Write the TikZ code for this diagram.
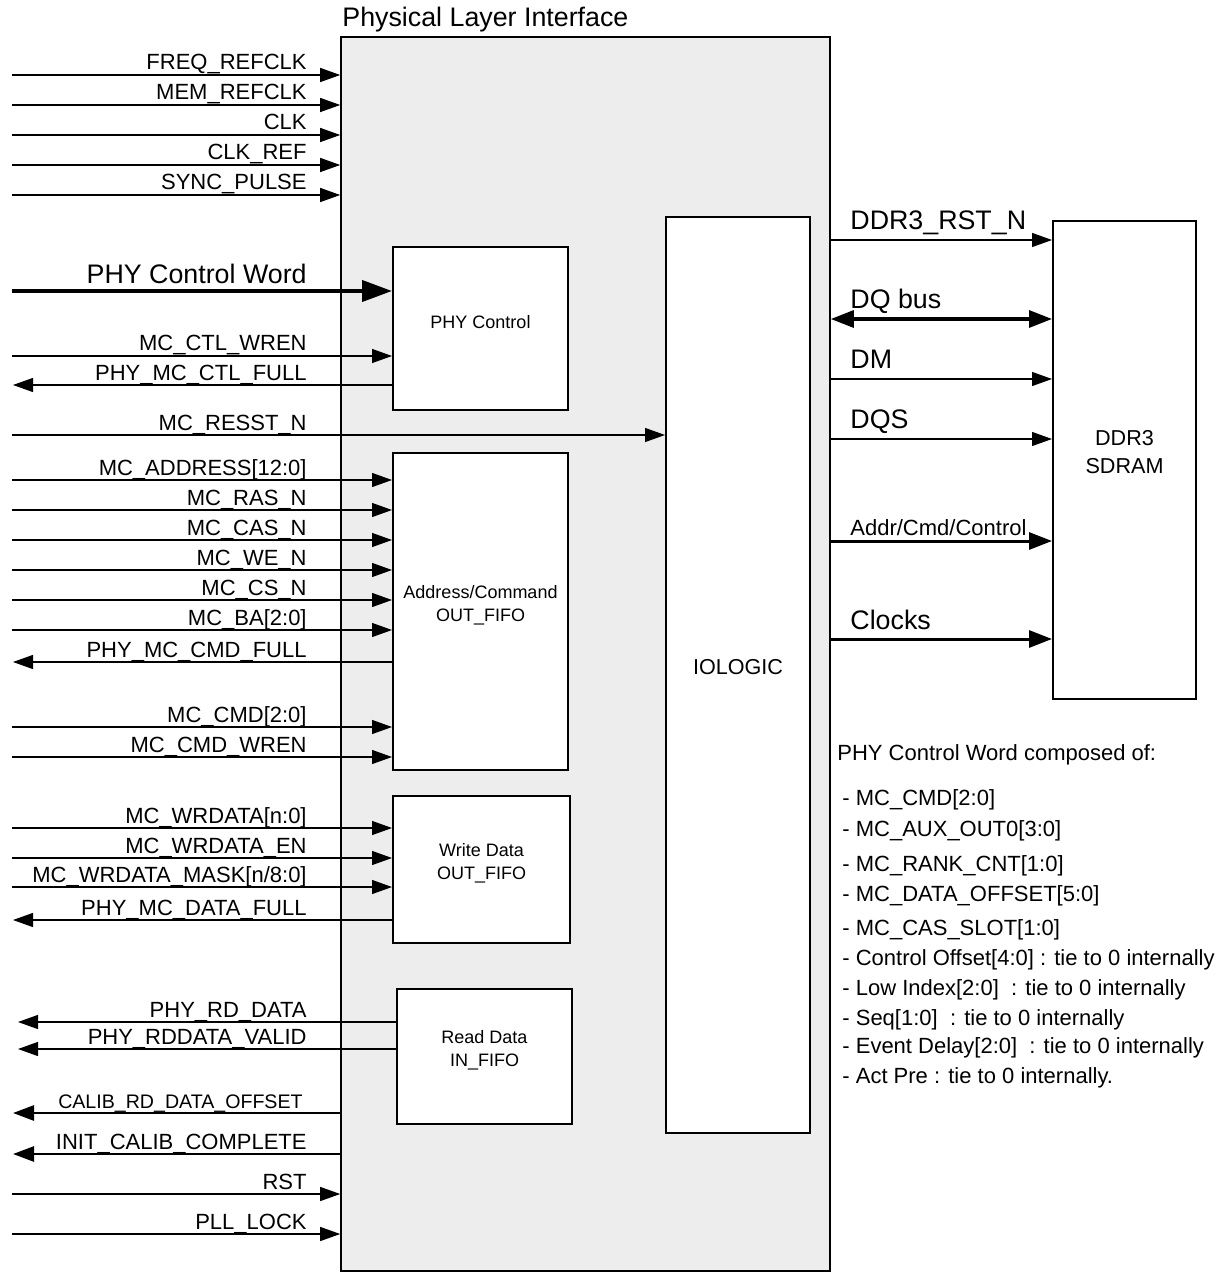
\documentclass[tikz,border=0pt]{standalone}
\usepackage{fontspec}
\setmainfont{Liberation Sans}
\usetikzlibrary{arrows.meta,fit}
\definecolor{PhyGray}{HTML}{EDEDED}

\begin{document}
\begin{tikzpicture}[
  x=0.5pt,y=-0.5pt,
  sigfont/.style={font=\fontsize{11}{13}\selectfont},
  bigfont/.style={font=\fontsize{13.4}{16}\selectfont},
  blk/.style={draw,line width=1pt,fill=white,inner sep=0pt,align=center,
              font=\fontsize{9}{11.5}\selectfont},
  bigblk/.style={blk,font=\fontsize{10.8}{14}\selectfont},
  sig/.style={-{Triangle[length=10pt,width=7pt]},line width=0.6pt},
  heavysig/.style={-{Triangle[length=10.5pt,width=7.5pt]},line width=1.3pt},
  bus/.style={-{Triangle[length=11.5pt,width=8.5pt]},line width=1.5pt},
  lbl/.style={sigfont,anchor=base east,inner sep=0pt},
  rlbl/.style={bigfont,anchor=base west,inner sep=0pt}
]
  \useasboundingbox (0,0) rectangle (1231,1272);
  \node[draw,line width=0.8pt,fill=PhyGray,inner sep=0pt,fit={(341,37) (830,1271)}] (phy) {};
  \node[bigfont,anchor=base west,inner sep=0pt] (title) at (342,27) {Physical Layer Interface};

  \node[blk,fit={(393,247) (568,410)}] (ctl) {PHY Control};
  \node[blk,fit={(393,453) (568,770)}] (acmd) {Address/Command\\OUT\_FIFO};
  \node[blk,fit={(393,796) (570,943)}] (wrf) {Write Data\\OUT\_FIFO};
  \node[blk,fit={(397,989) (572,1124)}] (rdf) {Read Data\\IN\_FIFO};
  \node[bigblk,fit={(666,217) (810,1133)}] (iol) {IOLOGIC};
  \node[bigblk,fit={(1053,221) (1196,699)}] (sdram) {DDR3\\SDRAM};

  \foreach \y/\t [count=\i] in {75/FREQ\_REFCLK,105/MEM\_REFCLK,135/CLK,165/CLK\_REF,
      195/SYNC\_PULSE,1194/RST,1234/PLL\_LOCK}{
    \coordinate (clk\i) at (12,\y);
    \draw[sig] (clk\i) -- (clk\i -| phy.west);
    \node[lbl] (clkl\i) at (307,\y-5) {\t};
  }

  \coordinate (pcw) at (12,291);
  \draw[line width=2pt,-{Triangle[length=15pt,width=10.5pt]}] (pcw) -- (pcw -| ctl.west);
  \node[bigfont,anchor=base east,inner sep=0pt] (pcwl) at (307,284) {PHY Control Word};

  \coordinate (ctlin) at (12,356);
  \draw[sig] (ctlin) -- (ctlin -| ctl.west);
  \node[lbl] (ctlinl) at (307,351) {MC\_CTL\_WREN};
  \coordinate (ctlout) at (13,385);
  \draw[sig] (ctlout -| ctl.west) -- (ctlout);
  \node[lbl] (ctloutl) at (307,380) {PHY\_MC\_CTL\_FULL};

  \coordinate (rstn) at (12,435);
  \draw[sig] (rstn) -- (rstn -| iol.west);
  \node[lbl] (rstnl) at (307,430) {MC\_RESST\_N};

  \foreach \y/\t [count=\i] in {480/MC\_ADDRESS[12:0],510/MC\_RAS\_N,540/MC\_CAS\_N,
      570/MC\_WE\_N,600/MC\_CS\_N,630/MC\_BA[2:0],727/MC\_CMD[2:0],757/MC\_CMD\_WREN}{
    \coordinate (ac\i) at (12,\y);
    \draw[sig] (ac\i) -- (ac\i -| acmd.west);
    \node[lbl] (acl\i) at (307,\y-5) {\t};
  }
  \coordinate (acout) at (13,662);
  \draw[sig] (acout -| acmd.west) -- (acout);
  \node[lbl] (acoutl) at (307,657) {PHY\_MC\_CMD\_FULL};

  \foreach \y/\t [count=\i] in {828/MC\_WRDATA[n:0],858/MC\_WRDATA\_EN,
      887/{MC\_WRDATA\_MASK[n/8:0]}}{
    \coordinate (wr\i) at (12,\y);
    \draw[sig] (wr\i) -- (wr\i -| wrf.west);
    \node[lbl] (wrl\i) at (307,\y-5) {\t};
  }
  \coordinate (wrout) at (13,920);
  \draw[sig] (wrout -| wrf.west) -- (wrout);
  \node[lbl] (wroutl) at (307,915) {PHY\_MC\_DATA\_FULL};

  \foreach \y/\t [count=\i] in {1022/PHY\_RD\_DATA,1049/PHY\_RDDATA\_VALID}{
    \coordinate (rd\i) at (18,\y);
    \draw[sig] (rd\i -| rdf.west) -- (rd\i);
    \node[lbl] (rdl\i) at (307,\y-5) {\t};
  }

  \coordinate (cal1) at (13,1113);
  \draw[heavysig] (cal1 -| phy.west) -- (cal1);
  \node[lbl,font=\fontsize{9.8}{12}\selectfont] (call1) at (303,1108) {CALIB\_RD\_DATA\_OFFSET};
  \coordinate (cal2) at (13,1154);
  \draw[heavysig] (cal2 -| phy.west) -- (cal2);
  \node[lbl] (call2) at (307,1149) {INIT\_CALIB\_COMPLETE};

  \foreach \y/\t [count=\i] in {240/DDR3\_RST\_N,379/DM,439/DQS}{
    \coordinate (mem\i) at (1000,\y);
    \draw[sig] (mem\i -| phy.east) -- (mem\i -| sdram.west);
    \node[rlbl] (meml\i) at (850,\y-10) {\t};
  }
  \coordinate (dq) at (1000,319);
  \draw[{Triangle[length=11.5pt,width=8.5pt]}-{Triangle[length=11.5pt,width=8.5pt]},line width=1.6pt]
    (dq -| phy.east) -- (dq -| sdram.west);
  \node[rlbl] (dql) at (850,309) {DQ bus};
  \coordinate (acc) at (1000,541);
  \draw[bus] (acc -| phy.east) -- (acc -| sdram.west);
  \node[sigfont,anchor=base west,inner sep=0pt] (accl) at (850,535) {Addr/Cmd/Control};
  \coordinate (clks) at (1000,639);
  \draw[bus] (clks -| phy.east) -- (clks -| sdram.west);
  \node[rlbl] (clksl) at (850,629) {Clocks};

  \node[sigfont,anchor=base west,inner sep=0pt] (cw) at (837,760) {PHY Control Word composed of:};
  \foreach \y/\t [count=\i] in {797/MC\_CMD[2:0],828/MC\_AUX\_OUT0[3:0],863/MC\_RANK\_CNT[1:0],
      893/MC\_DATA\_OFFSET[5:0],927/MC\_CAS\_SLOT[1:0],957/Control Offset[4:0] : tie to 0 internally,
      987/Low Index[2:0]\ \ : tie to 0 internally,1017/Seq[1:0]\ \ : tie to 0 internally,
      1045/Event Delay[2:0]\ \ : tie to 0 internally,1075/Act Pre : tie to 0 internally.}{
    \node[sigfont,anchor=base west,inner sep=0pt] (cw\i) at (842,\y+8) {- \t};
  }
\end{tikzpicture}
\end{document}
